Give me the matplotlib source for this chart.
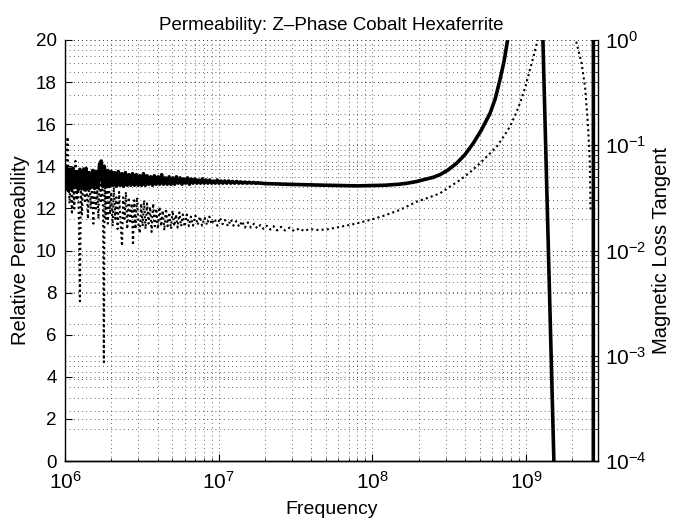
import numpy as np
import matplotlib
matplotlib.use("Agg")
import matplotlib.pyplot as plt

plt.rcParams['font.family'] = ['Liberation Sans', 'DejaVu Sans']
plt.rcParams['mathtext.fontset'] = 'custom'
plt.rcParams['mathtext.rm'] = 'Liberation Sans'
plt.rcParams['mathtext.it'] = 'Liberation Sans:italic'
plt.rcParams['axes.linewidth'] = 1.0

# relative permeability (left axis), frequency in MHz
perm_freq_mhz = [
    1.000, 1.025, 1.05, 1.075, 1.10, 1.13, 1.16, 1.19, 1.22, 1.25, 1.28, 1.31,
    1.34, 1.37, 1.40, 1.44, 1.48, 1.52, 1.56, 1.60, 1.64, 1.68, 1.72, 1.76,
    1.80, 1.85, 1.90, 1.95, 2.00, 2.05, 2.10, 2.16, 2.22, 2.28, 2.34, 2.40,
    2.47, 2.54, 2.61, 2.68, 2.75, 2.83, 2.91, 2.99, 3.07, 3.15, 3.24, 3.33,
    3.42, 3.51, 3.61, 3.71, 3.81, 3.92, 4.03, 4.14, 4.26, 4.38, 4.50, 4.63,
    4.76, 4.89, 5.03, 5.17, 5.31, 5.46, 5.61, 5.77, 5.93, 6.10, 6.27, 6.45,
    6.63, 6.82, 7.01, 7.21, 7.41, 7.62, 7.83, 8.05, 8.28, 8.51, 8.75, 9.00,
    9.25, 9.51, 9.78, 10.05, 10.35, 10.65, 10.95, 11.3, 11.6, 12.0, 12.3, 12.7,
    13.1, 13.5, 13.9, 14.3, 14.8, 15.3, 15.8, 16.3, 16.8, 17.4, 18.0,
    20, 30, 50, 80, 120, 150, 170, 195, 220, 250, 275, 310, 353, 400, 454,
    510, 582, 630, 676, 720, 759,
    850, 950, 1050, 1150, 1288, 1518, 1700, 2200, 2740, 2745, 2950]
perm_values = [
    13.3, 13.95, 12.85, 13.85, 12.9, 13.9, 13.0, 13.75, 12.9, 13.85, 12.95, 13.8,
    13.0, 13.9, 12.95, 13.7, 13.0, 13.8, 12.95, 13.75, 13.0, 14.1, 14.25, 13.05,
    14.0, 13.05, 13.8, 13.05, 13.75, 13.1, 13.7, 13.05, 13.75, 13.1, 13.65, 13.05,
    13.7, 13.1, 13.6, 13.1, 13.65, 13.1, 13.6, 13.1, 13.55, 13.1, 13.65, 13.1,
    13.55, 13.15, 13.5, 13.1, 13.55, 13.15, 13.5, 13.15, 13.6, 13.15, 13.45, 13.15,
    13.5, 13.15, 13.45, 13.15, 13.5, 13.2, 13.45, 13.15, 13.4, 13.2, 13.45, 13.15,
    13.4, 13.2, 13.4, 13.2, 13.35, 13.2, 13.4, 13.2, 13.35, 13.2, 13.35, 13.2,
    13.3, 13.2, 13.35, 13.2, 13.3, 13.2, 13.3, 13.2, 13.3, 13.2, 13.28, 13.2,
    13.28, 13.2, 13.26, 13.2, 13.25, 13.2, 13.24, 13.2, 13.23, 13.2, 13.21,
    13.18, 13.14, 13.1, 13.07, 13.1, 13.15, 13.2, 13.28, 13.38, 13.48, 13.6, 13.82, 14.14, 14.55, 15.1,
    15.7, 16.5, 17.2, 18.1, 19.0, 20.0,
    25, 35, 40, 32, 20, 0, -8, -6, -3, 30, 30]

# magnetic loss tangent (right axis), frequency in MHz
loss_freq_mhz = [
    1.00, 1.02, 1.04, 1.05, 1.07, 1.09, 1.11, 1.13, 1.15, 1.17, 1.19, 1.21,
    1.23, 1.25, 1.27, 1.29, 1.32, 1.35, 1.38, 1.41, 1.44, 1.47, 1.50, 1.53,
    1.56, 1.59, 1.62, 1.65, 1.68, 1.71, 1.74, 1.77, 1.79, 1.81, 1.84, 1.87,
    1.90, 1.93, 1.96, 2.00, 2.04, 2.08, 2.12, 2.16, 2.20, 2.25, 2.30, 2.35,
    2.39, 2.44, 2.49, 2.54, 2.60, 2.66, 2.72, 2.77, 2.82, 2.88, 2.94, 3.00,
    3.07, 3.13, 3.20, 3.27, 3.34, 3.42, 3.50, 3.58, 3.66, 3.75, 3.84, 3.93,
    4.02, 4.12, 4.22, 4.32, 4.43, 4.54, 4.65, 4.77, 4.89, 5.01, 5.14, 5.27,
    5.41, 5.55, 5.70, 5.85, 6.00, 6.20, 6.40, 6.60, 6.80, 7.05, 7.30, 7.55,
    7.80, 8.10, 8.40, 8.70, 9.00, 9.40, 9.80, 10.2, 10.6, 11.0, 11.5, 12.0,
    12.5, 13.0, 13.6, 14.2, 14.8, 15.5, 16.2, 17.0, 17.8, 18.7, 19.6, 20.6,
    21.7, 22.8, 24.0, 25.5, 27.0, 29.0, 31.0, 33.5, 36.0, 39.0, 43.4, 50.0,
    58.0, 71.5, 84.0, 96.5, 120, 151, 194, 235, 275, 320, 372, 430, 501, 570,
    644, 715, 785, 850, 912, 985, 1060, 1125, 1190,
    1300, 1500, 2000, 2110, 2200, 2300, 2420, 2480, 2540, 2600, 2630]
loss_values = [
    0.040, 0.071, 0.120, 0.056, 0.028, 0.063, 0.022, 0.050, 0.025, 0.071, 0.030, 0.056,
    0.020, 0.0033, 0.045, 0.022, 0.063, 0.028, 0.050, 0.020, 0.056, 0.025, 0.045, 0.018,
    0.050, 0.025, 0.040, 0.020, 0.063, 0.028, 0.050, 0.022, 0.00087, 0.045, 0.020, 0.040,
    0.018, 0.045, 0.022, 0.036, 0.017, 0.040, 0.020, 0.032, 0.016, 0.036, 0.018, 0.011,
    0.032, 0.020, 0.036, 0.016, 0.032, 0.018, 0.028, 0.0112, 0.030, 0.016, 0.032, 0.018,
    0.0146, 0.028, 0.017, 0.030, 0.016, 0.028, 0.018, 0.026, 0.015, 0.028, 0.017, 0.025,
    0.016, 0.026, 0.017, 0.024, 0.0155, 0.025, 0.017, 0.023, 0.016, 0.024, 0.017, 0.022,
    0.0165, 0.023, 0.017, 0.022, 0.0168, 0.022, 0.017, 0.021, 0.0172, 0.0215, 0.0175, 0.021,
    0.0172, 0.0205, 0.0175, 0.021, 0.0178, 0.020, 0.0172, 0.0205, 0.0178, 0.0195, 0.017, 0.0198,
    0.0172, 0.019, 0.0168, 0.019, 0.0165, 0.0185, 0.0165, 0.018, 0.0162, 0.0175, 0.016, 0.0172,
    0.0158, 0.017, 0.0155, 0.0168, 0.0155, 0.0165, 0.0153, 0.0162, 0.0153, 0.016, 0.0157, 0.0158,
    0.0165, 0.0175, 0.0185, 0.0195, 0.0215, 0.0243, 0.0291, 0.032, 0.0349, 0.0404, 0.0468, 0.055, 0.0673, 0.081,
    0.0969, 0.121, 0.150, 0.193, 0.250, 0.35, 0.519, 0.72, 1.0,
    2.0, 3.0, 1.5, 1.0, 0.78, 0.60, 0.36, 0.23, 0.14, 0.068, 0.024]

yticks_left = [0, 2, 4, 6, 8, 10, 12, 14, 16, 18, 20]

perm_freq = np.array(perm_freq_mhz) * 1e6
loss_freq = np.array(loss_freq_mhz) * 1e6

fig = plt.figure(figsize=(6.82, 5.23), dpi=100)
ax = fig.add_axes([65 / 682, 62 / 523, 533 / 682, 421 / 523])
ax.set_xscale('log')
ax2 = ax.twinx()
ax2.set_yscale('log')

grid_kw = dict(color='0.2', linestyle=(0, (1, 4)), linewidth=0.6)

# permeability on left axis
ax.plot(perm_freq, perm_values, color='k', linewidth=2.6, zorder=3)
ax.set_xlim(1e6, 2.94e9)
ax.set_ylim(0, 20)
ax.set_yticks(yticks_left)
ax.grid(True, which='both', axis='x', **grid_kw)
ax.grid(True, which='major', axis='y', **grid_kw)
ax.tick_params(axis='y', which='major', direction='in', length=5, labelsize=13.5, pad=6)
ax.tick_params(axis='x', which='major', direction='in', length=5, labelsize=15, pad=7)
ax.tick_params(axis='x', which='minor', direction='in', length=2.5)
ax.tick_params(right=False, top=False)
ax.spines['top'].set_visible(False)
ax.spines['right'].set_visible(False)
ax.set_xlabel('Frequency', fontsize=14, labelpad=6)
ax.set_ylabel('Relative Permeability', fontsize=14.5, labelpad=4)
ax.set_title('Permeability: Z\u2013Phase Cobalt Hexaferrite', fontsize=13.5, pad=7)

# loss tangent on right axis
ax2.plot(loss_freq, loss_values, color='k', linewidth=1.5, linestyle=(0, (1, 1.5)))
ax2.set_ylim(1e-4, 1)
ax2.grid(True, which='both', axis='y', **grid_kw)
ax2.tick_params(axis='y', which='major', direction='in', length=5, labelsize=15, pad=5)
ax2.tick_params(axis='y', which='minor', direction='in', length=2.5)
ax2.spines['top'].set_visible(False)
ax2.spines['left'].set_visible(False)
ax2.set_ylabel('Magnetic Loss Tangent', fontsize=14.5, labelpad=4)

fig.savefig('out.png', dpi=100)
